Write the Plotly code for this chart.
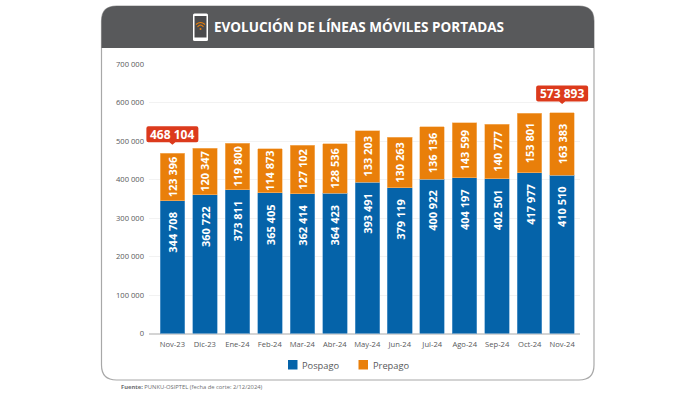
import plotly.graph_objects as go

months = ["Nov-23","Dic-23","Ene-24","Feb-24","Mar-24","Abr-24","May-24","Jun-24","Jul-24","Ago-24","Sep-24","Oct-24","Nov-24"]
pospago = [344708,360722,373811,365405,362414,364423,393491,379119,400922,404197,402501,417977,410510]
prepago = [123396,120347,119800,114873,127102,128536,133203,130263,136136,143599,140777,153801,163383]
callout_idx = [0, 12]
y_ticks = [0,100000,200000,300000,400000,500000,600000,700000]
title = "EVOLUCIÓN DE LÍNEAS MÓVILES PORTADAS"
source_bold = "Fuente:"
source_text = " PUNKU-OSIPTEL (fecha de corte: 2/12/2024)"

W, H = 700, 395
FONT = "Open Sans"
BLUE, ORANGE, RED, DARK = "#0563a9", "#e97f0a", "#dc3a1c", "#58595b"
X_LEFT, X_RIGHT = 149, 580
X_RANGE = [-0.72, 12.55]

def fmt(v):
    return f"{v:,}".replace(",", " ")
def px(x): return x / W
def py(y): return 1 - y / H
def cat_paper(i):
    frac = (i - X_RANGE[0]) / (X_RANGE[1] - X_RANGE[0])
    return px(X_LEFT + frac * (X_RIGHT - X_LEFT))

def rpath(x0, y0, x1, y1, r):
    a, b, c, d = px(x0), py(y0), px(x1), py(y1)
    rx, ry = r / W, r / H
    return (f"M{a+rx},{b} L{c-rx},{b} Q{c},{b} {c},{b-ry} L{c},{d+ry} Q{c},{d} {c-rx},{d} "
            f"L{a+rx},{d} Q{a},{d} {a},{d+ry} L{a},{b-ry} Q{a},{b} {a+rx},{b} Z")

fig = go.Figure()
fig.add_bar(name="Pospago", x=months, y=pospago, marker=dict(color=BLUE, line=dict(color="#6aa5d4", width=0.6)))
fig.add_bar(name="Prepago", x=months, y=prepago, marker=dict(color=ORANGE, line=dict(color="#f6bb78", width=0.6)),
            text=[fmt(v) for v in prepago], textposition="inside", insidetextanchor="middle", textangle=-90,
            constraintext="none", textfont=dict(family=FONT, size=11, color="white", weight=700))
fig.update_traces(cliponaxis=False, hoverinfo="skip")

shapes = []
# card
shapes.append(dict(type="path", xref="paper", yref="paper", path=rpath(101.5, 6, 594, 380, 15),
                   line=dict(color="#a8a8a8", width=1.2), fillcolor="white", layer="below"))
# header
a, b, c, d = px(101.5), py(6), px(594), py(48)
rx, ry = 15 / W, 15 / H
shapes.append(dict(type="path", xref="paper", yref="paper",
                   path=f"M{a},{d} L{a},{b-ry} Q{a},{b} {a+rx},{b} L{c-rx},{b} Q{c},{b} {c},{b-ry} L{c},{d} Z",
                   line=dict(width=0), fillcolor=DARK, layer="below"))
# phone icon
shapes.append(dict(type="path", xref="paper", yref="paper", path=rpath(193, 13.5, 208, 41, 1.5),
                   line=dict(width=0), fillcolor="white", layer="above"))
shapes.append(dict(type="rect", xref="paper", yref="paper", x0=px(194.5), x1=px(206.5), y0=py(16), y1=py(37.5),
                   line=dict(width=0), fillcolor="#4a4a4c", layer="above"))
for top, half, w in [(22, 4.5, 1.1), (24.5, 3, 1.1)]:
    shapes.append(dict(type="path", xref="paper", yref="paper",
                       path=f"M{px(200.5-half)},{py(top+2.5)} Q{px(200.5)},{py(top-1.5)} {px(200.5+half)},{py(top+2.5)}",
                       line=dict(color=ORANGE, width=w), layer="above"))
shapes.append(dict(type="circle", xref="paper", yref="paper", x0=px(199.5), x1=px(201.5), y0=py(30), y1=py(28),
                   line=dict(width=0), fillcolor=ORANGE, layer="above"))

annotations = [
    dict(text=f"<b>{title}</b>", x=px(359), y=py(27), xref="paper", yref="paper", showarrow=False,
         font=dict(family=FONT, size=13.5, color="white"), xanchor="center", yanchor="middle"),
    dict(text=f"<b>{source_bold}</b>{source_text}", x=px(119), y=py(386.5), xref="paper", yref="paper",
         showarrow=False, font=dict(family=FONT, size=5.8, color="#6d6e70"), xanchor="left", yanchor="middle"),
]
# Pospago value labels sit a fixed distance under the top of each blue bar
for m, v in zip(months, pospago):
    annotations.append(dict(text=f"<b>{fmt(v)}</b>", x=m, y=v, xref="x", yref="y", yshift=-9, textangle=-90,
                            showarrow=False, font=dict(family=FONT, size=11, color="white"),
                            xanchor="center", yanchor="top"))
# legend keys
for name, color, sx, tx in [("Pospago", BLUE, 288, 301), ("Prepago", ORANGE, 358.5, 372)]:
    shapes.append(dict(type="rect", xref="paper", yref="paper", x0=px(sx), x1=px(sx + 9.5), y0=py(360), y1=py(369.5),
                       line=dict(width=0), fillcolor=color, layer="above"))
    annotations.append(dict(text=name, x=px(tx - 1), y=py(365), xref="paper", yref="paper", showarrow=False,
                            font=dict(family=FONT, size=9.3, color="#58595b"), xanchor="left", yanchor="middle"))
# callouts anchored on the stacked totals
for i in callout_idx:
    total = pospago[i] + prepago[i]
    shapes.append(dict(type="path", xref="paper", yref="y", xsizemode="pixel", ysizemode="pixel",
                       xanchor=cat_paper(i), yanchor=total,
                       path="M-24,11 Q-26,11 -26,13 L-26,25 Q-26,27 -24,27 L24,27 Q26,27 26,25 L26,13 Q26,11 24,11 L3,11 L0,8.5 L-3,11 Z",
                       line=dict(width=0), fillcolor=RED, layer="above"))
    annotations.append(dict(text=f"<b>{fmt(total)}</b>", x=months[i], y=total, yshift=19, xref="x", yref="y",
                            showarrow=False, font=dict(family=FONT, size=12, color="white"),
                            xanchor="center", yanchor="middle"))

fig.update_layout(
    width=W, height=H, autosize=False, barmode="stack", bargap=0.245, showlegend=False,
    margin=dict(l=0, r=0, t=0, b=0, autoexpand=False),
    paper_bgcolor="white", plot_bgcolor="rgba(0,0,0,0)",
    font=dict(family=FONT, color="#58595b"),
    shapes=shapes, annotations=annotations,
    xaxis=dict(domain=[px(X_LEFT), px(X_RIGHT)], range=X_RANGE, type="category",
               categoryorder="array", categoryarray=months, automargin=False, ticklabelstandoff=5,
               tickfont=dict(size=7.6, color="#58595b"), ticks="", showgrid=False, showline=False, zeroline=False),
    yaxis=dict(domain=[py(333.5), py(64)], range=[0, 700000], tickvals=y_ticks, automargin=False,
               ticktext=[fmt(v) for v in y_ticks], tickfont=dict(size=7.6, color="#58595b"),
               ticks="", gridcolor="#f2f2f2", gridwidth=1, zeroline=True, zerolinecolor="#d4d4d4",
               zerolinewidth=2, showline=False, ticklabelstandoff=4),
)
fig.write_html("out.html", config={"displayModeBar": False},
               post_script="document.body.style.margin='0';document.documentElement.style.overflow='hidden';")
